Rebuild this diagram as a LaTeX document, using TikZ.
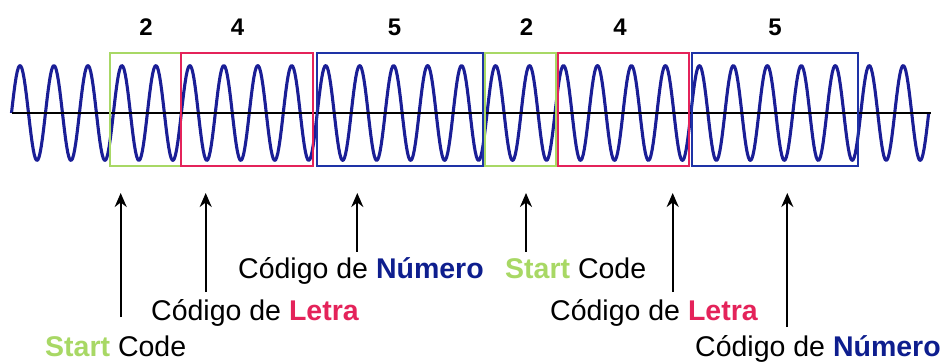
\documentclass[tikz,border=0pt]{standalone}
\usepackage{fontspec}
\setmainfont{Liberation Sans}
\usetikzlibrary{arrows.meta}
\definecolor{wavec}{HTML}{1A1E96}
\definecolor{greenc}{HTML}{A8D865}
\definecolor{redc}{HTML}{E4235A}
\definecolor{bluec}{HTML}{1E32A6}
\definecolor{numc}{HTML}{0E1E8E}
\tikzset{
  wave/.style={wavec, line width=3.1pt, line join=round},
  axisline/.style={black, line width=2.4pt},
  gbox/.style={greenc, line width=2pt},
  rbox/.style={redc, line width=2pt},
  bbox/.style={bluec, line width=2pt},
  num/.style={font=\fontsize{24}{24}\selectfont\bfseries, anchor=base, inner sep=0pt},
  lbl/.style={font=\fontsize{28.5}{30}\selectfont, anchor=base west, inner sep=0pt},
  pointer/.style={line width=2.2pt, -{Stealth[length=14pt,width=12pt]}},
}
\newcommand{\st}{\textcolor{greenc}{\textbf{Start}}}
\newcommand{\lt}{\textcolor{redc}{\textbf{Letra}}}
\newcommand{\nm}{\textcolor{numc}{\textbf{Número}}}
\begin{document}
\begin{tikzpicture}[x=1pt,y=-1pt]
\useasboundingbox (0,0) rectangle (947,363);
% wave
\draw[wave] plot[domain=0:917.2, samples=800] ({\x+11.5}, {113-47.5*sin(10.5976*\x)});
\coordinate (axL) at (12,113);
\coordinate (axR) at (931,113);
\draw[axisline] (axL) -- (axR);
% boxes
\draw[gbox] (110,53) rectangle (181,166.5);
\draw[rbox] (181,53) rectangle (313.3,166.5);
\draw[bbox] (316.7,53) rectangle (482.7,166.5);
\draw[gbox] (485,53) rectangle (556,166.5);
\draw[rbox] (558.3,53) rectangle (689.3,166.5);
\draw[bbox] (691.7,53) rectangle (858.3,166.5);
% numbers
\node[num] (n1) at (146,35.5) {2};
\node[num] (n2) at (237.5,35.5) {4};
\node[num] (n3) at (394.5,35.5) {5};
\node[num] (n4) at (526.5,35.5) {2};
\node[num] (n5) at (620,35.5) {4};
\node[num] (n6) at (775,35.5) {5};
% labels
\node[lbl] (l1) at (45,356) {\st{} Code};
\node[lbl] (l2) at (151,320) {Código de \lt};
\node[lbl] (l3) at (238,279) {Código de \nm};
\node[lbl] (l4) at (505,279) {\st{} Code};
\node[lbl] (l5) at (550,320) {Código de \lt};
\node[lbl] (l6) at (695,356) {Código de \nm};
% arrows
\coordinate (a1s) at (120.7,317); \coordinate (a1e) at (120.7,193);
\coordinate (a2s) at (205.7,292); \coordinate (a2e) at (205.7,193);
\coordinate (a3s) at (357.3,252); \coordinate (a3e) at (357.3,193);
\coordinate (a4s) at (526,252); \coordinate (a4e) at (526,193);
\coordinate (a5s) at (672.7,292); \coordinate (a5e) at (672.7,193);
\coordinate (a6s) at (787.3,327); \coordinate (a6e) at (787.3,193);
\foreach \i in {1,...,6} \draw[pointer] (a\i s) -- (a\i e);
\end{tikzpicture}
\end{document}
